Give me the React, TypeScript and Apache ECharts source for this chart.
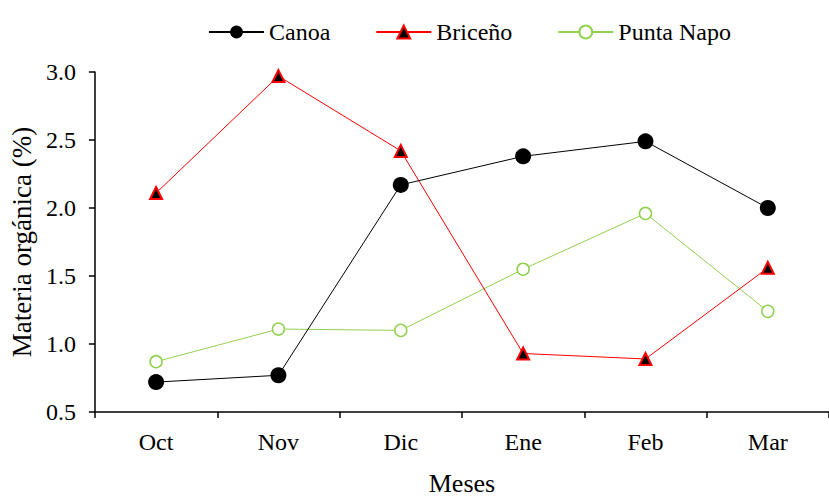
import React, { useEffect, useRef } from "react";
import * as echarts from "echarts";

const months = ["Oct", "Nov", "Dic", "Ene", "Feb", "Mar"];
const canoa = [0.72, 0.77, 2.17, 2.38, 2.49, 2.0];
const briceno = [2.11, 2.97, 2.42, 0.93, 0.89, 1.56];
const puntaNapo = [0.87, 1.11, 1.1, 1.55, 1.96, 1.24];

const FONT = "'Liberation Serif', 'Times New Roman', serif";

export default function App() {
  const ref = useRef<HTMLDivElement>(null);

  useEffect(() => {
    if (!ref.current) return;
    const chart = echarts.init(ref.current, null, { renderer: "svg" });
    chart.setOption({
      animation: false,
      backgroundColor: "#ffffff",
      textStyle: { fontFamily: FONT, color: "#000" },
      legend: {
        top: 15,
        left: 203,
        itemWidth: 55,
        itemHeight: 16,
        itemGap: 45,
        textStyle: { fontFamily: FONT, fontSize: 24, color: "#000" },
        data: ["Canoa", "Briceño", "Punta Napo"],
      },
      grid: { left: 94, top: 72, width: 748, height: 355, containLabel: false },
      xAxis: {
        type: "category",
        data: months,
        boundaryGap: true,
        name: "Meses",
        nameLocation: "middle",
        nameGap: 58,
        nameTextStyle: { fontFamily: FONT, fontSize: 26, color: "#000" },
        axisLine: { lineStyle: { color: "#000", width: 1.5 } },
        axisTick: { show: true, inside: false, length: 6, lineStyle: { color: "#000", width: 1.5 } },
        axisLabel: { fontFamily: FONT, fontSize: 24, color: "#000", margin: 18 },
        splitLine: { show: false },
      },
      yAxis: {
        type: "value",
        min: 0.5,
        max: 3.0,
        interval: 0.5,
        name: "Materia orgánica (%)",
        nameLocation: "middle",
        nameGap: 58,
        nameTextStyle: { fontFamily: FONT, fontSize: 27, color: "#000" },
        axisLine: { show: true, lineStyle: { color: "#000", width: 1.5 } },
        axisTick: { show: true, inside: false, length: 6, lineStyle: { color: "#000", width: 1.5 } },
        axisLabel: {
          fontFamily: FONT,
          fontSize: 24,
          color: "#000",
          margin: 19,
          formatter: (v: number) => v.toFixed(1),
        },
        splitLine: { show: false },
      },
      series: [
        {
          name: "Punta Napo",
          type: "line",
          data: puntaNapo,
          symbol: "circle",
          symbolSize: 12,
          lineStyle: { color: "#92D050", width: 1 },
          itemStyle: { color: "#ffffff", borderColor: "#92D050", borderWidth: 1.5 },
          z: 2,
        },
        {
          name: "Briceño",
          type: "line",
          data: briceno,
          symbol: "triangle",
          symbolSize: 12,
          lineStyle: { color: "#FF0000", width: 1 },
          itemStyle: { color: "#000000", borderColor: "#FF0000", borderWidth: 2 },
          z: 3,
        },
        {
          name: "Canoa",
          type: "line",
          data: canoa,
          symbol: "circle",
          symbolSize: 16,
          lineStyle: { color: "#000000", width: 1 },
          itemStyle: { color: "#000000", borderColor: "#000000", borderWidth: 0 },
          z: 4,
        },
      ],
    });
    return () => chart.dispose();
  }, []);

  return <div ref={ref} style={{ width: 829, height: 501, position: "absolute", left: 0, top: 0 }} />;
}
